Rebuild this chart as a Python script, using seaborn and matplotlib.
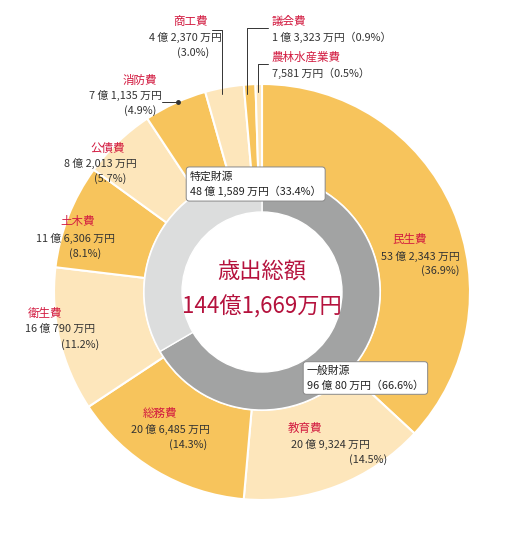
import matplotlib
matplotlib.use("Agg")
import matplotlib.pyplot as plt
import seaborn as sns

sns.set_theme(style="white")
plt.rcParams["font.family"] = ["Noto Sans CJK JP", "DejaVu Sans"]

# ─── Data ─────────────────────────────────────────────────────────────────────
categories = ["民生費", "教育費", "総務費", "衛生費", "土木費",
              "公債費", "消防費", "商工費", "議会費", "農林水産業費"]
shares = [36.9, 14.5, 14.3, 11.2, 8.1, 5.7, 4.9, 3.0, 0.9, 0.5]
amounts = ["53 億 2,343 万円", "20 億 9,324 万円", "20 億 6,485 万円", "16 億 790 万円",
           "11 億 6,306 万円", "8 億 2,013 万円", "7 億 1,135 万円", "4 億 2,370 万円",
           "1 億 3,323 万円", "7,581 万円"]
sources = ["一般財源", "特定財源"]
source_shares = [66.6, 33.4]
source_amounts = ["96 億 80 万円", "48 億 1,589 万円"]

ORANGE, CREAM = "#F7C45C", "#FDE6BB"
RED = "#D2193F"
CX, CY, R = 262, 292, 208

fig = plt.figure(figsize=(5.28, 5.52), dpi=100)
ax = fig.add_axes([(CX - R) / 528, (552 - CY - R) / 552, 2 * R / 528, 2 * R / 552])

def d(px, py):
    return (px - CX) / R, (CY - py) / R

colors = [ORANGE if i % 2 == 0 else CREAM for i in range(len(shares))]
ax.pie(shares, colors=colors, startangle=90, counterclock=False, radius=1.0,
       wedgeprops=dict(width=1.0 - 118 / R, edgecolor="white", linewidth=1.5))
ax.pie(source_shares, colors=["#A2A3A3", "#DCDDDD"], startangle=90, counterclock=False,
       radius=118 / R, wedgeprops=dict(width=(118 - 80) / R, edgecolor="white", linewidth=1))
ax.set_xlim(-1, 1)
ax.set_ylim(-1, 1)
ax.set_aspect("equal")
ax.axis("off")

fs = 7.8
# label positions (pixel centres) for each category: name, amount, share
pos = {
    "民生費": [(410, 240), (420, 256), (440, 271)],
    "教育費": [(305, 428), (330, 444), (368, 460)],
    "総務費": [(160, 413), (170, 429), (188, 445)],
    "衛生費": [(45, 313), (60, 329), (80, 345)],
    "土木費": [(78, 222), (75, 238), (85, 254)],
    "公債費": [(108, 148), (100, 163), (110, 179)],
    "消防費": [(140, 80), (125, 95), (140, 111)],
    "商工費": [(190, 21), (185, 37), (193, 53)],
}
for name, amt, s in zip(categories, amounts, shares):
    if name in pos:
        (a, b), (c, e), (f, g) = pos[name]
        ax.text(*d(a, b), name, color=RED, fontsize=fs + 0.5, ha="center", va="center")
        ax.text(*d(c, e), amt, color="#333333", fontsize=fs, ha="center", va="center")
        ax.text(*d(f, g), f"({s}%)", color="#333333", fontsize=fs, ha="center", va="center")

# small slices with leader lines
ax.text(*d(272, 21), categories[8], color=RED, fontsize=fs + 0.5, ha="left", va="center")
ax.text(*d(272, 37), f"{amounts[8]}（{shares[8]}%）", color="#333333", fontsize=fs, ha="left", va="center")
ax.text(*d(272, 57), categories[9], color=RED, fontsize=fs + 0.5, ha="left", va="center")
ax.text(*d(272, 73), f"{amounts[9]}（{shares[9]}%）", color="#333333", fontsize=fs, ha="left", va="center")
for xs, ys in [([247, 247, 268], [94, 28, 28]), ([258, 258, 268], [92, 64, 64]),
               ([222, 222, 212], [94, 30, 30]), ([162, 178], [102, 102])]:
    ax.plot(*zip(*[d(x, y) for x, y in zip(xs, ys)]), color="#333333", lw=0.7, clip_on=False)
ax.plot(*d(178, 102), "o", color="#333333", ms=2.5, clip_on=False)

# callouts for funding sources
box = dict(boxstyle="round,pad=0.35,rounding_size=0.3", fc="white", ec="#888888", lw=0.7)
ax.text(*d(190, 184), f"{sources[1]}\n{source_amounts[1]}（{source_shares[1]}%）",
        fontsize=fs, ha="left", va="center", color="#222222", bbox=box, linespacing=1.5)
ax.text(*d(307, 378), f"{sources[0]}\n{source_amounts[0]}（{source_shares[0]}%）",
        fontsize=fs, ha="left", va="center", color="#222222", bbox=box, linespacing=1.5)

ax.text(*d(CX, 272), "歳出総額", color="#B5123D", fontsize=16, ha="center", va="center")
ax.text(*d(CX, 307), "144億1,669万円", color="#B5123D", fontsize=16, ha="center", va="center")

fig.savefig("out.png", dpi=100)
